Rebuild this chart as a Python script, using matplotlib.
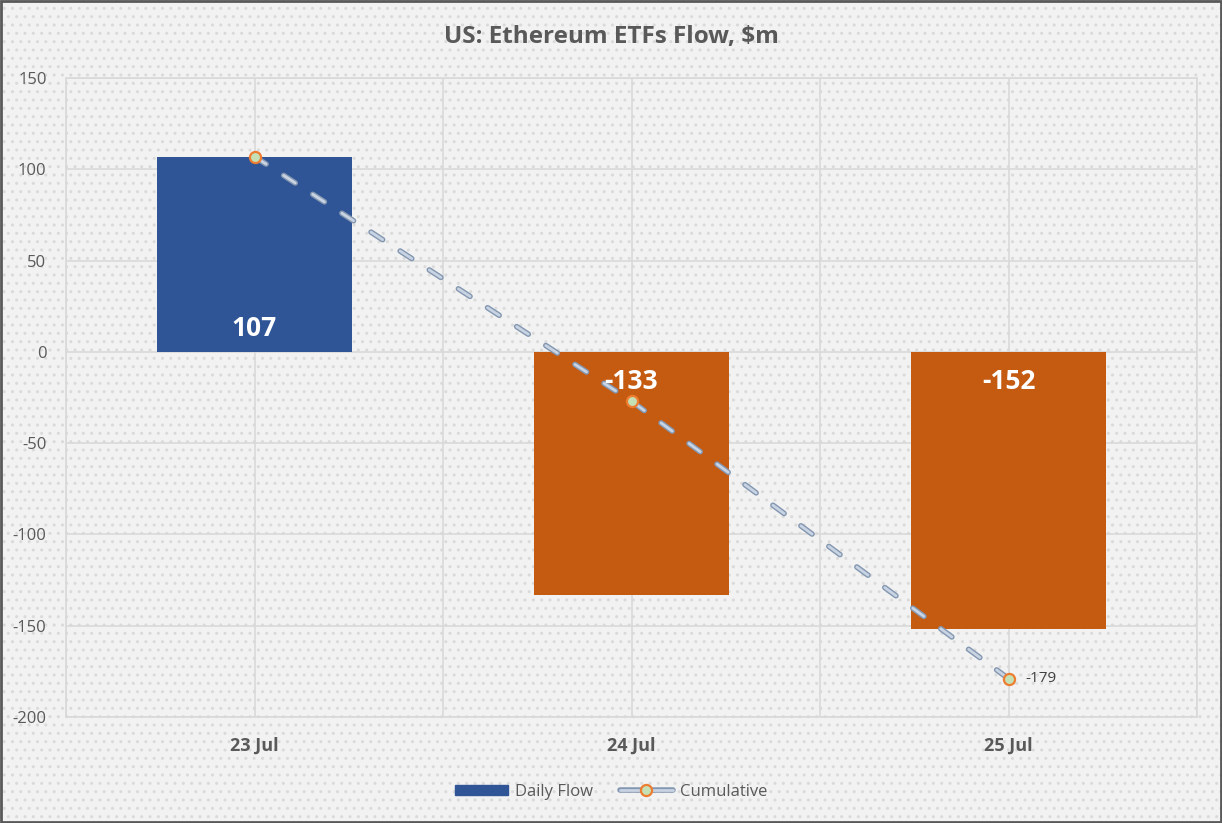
import matplotlib
matplotlib.use("Agg")
import matplotlib.pyplot as plt
import matplotlib.patheffects as pe
from matplotlib.patches import Rectangle
from matplotlib.lines import Line2D
import numpy as np

categories = ["23 Jul", "24 Jul", "25 Jul"]
daily_flow = [107, -133, -152]
cumulative = [107, -27, -179]
yticks = [150, 100, 50, 0, -50, -100, -150, -200]

plt.rcParams['font.family'] = ['Open Sans', 'DejaVu Sans']
grey = '#595959'

fig = plt.figure(figsize=(12.22, 8.23), dpi=100)
fig.patch.set_facecolor('#f2f2f2')
bg = Rectangle((0, 0), 1, 1, transform=fig.transFigure, facecolor='#f2f2f2',
               edgecolor='#dadada', hatch='..', linewidth=0, zorder=-10)
fig.patches.append(bg)
border = Rectangle((0.001, 0.001), 0.998, 0.998, transform=fig.transFigure, facecolor='none',
                   edgecolor='#595959', linewidth=2, zorder=10)
fig.patches.append(border)

ax = fig.add_axes([0.054, 0.1288, 0.9256, 0.7764])
ax.set_facecolor('none')
x = np.arange(len(categories))
colors = ['#2f5597' if v >= 0 else '#c55a11' for v in daily_flow]
bars = ax.bar(x, daily_flow, width=0.517, color=colors, zorder=3)

for xi, v in zip(x, daily_flow):
    if v >= 0:
        ax.text(xi, 13, f"{v}", ha='center', va='center', color='white',
                fontsize=19, fontweight='bold', zorder=6)
    else:
        ax.text(xi, -16, f"{v}", ha='center', va='center', color='white',
                fontsize=19, fontweight='bold', zorder=6)

line_fx = [pe.Stroke(linewidth=4, foreground='#8497b0', capstyle='round'), pe.Normal()]
ax.plot(x, cumulative, color='#c8d3e3', lw=2, dashes=(5, 7.5), zorder=5,
        path_effects=line_fx, solid_capstyle='round', dash_capstyle='round')
ax.plot(x, cumulative, linestyle='none', marker='o', markersize=8,
        markerfacecolor='#c5e0b4', markeredgecolor='#ed7d31', markeredgewidth=1.6, zorder=6)
ax.text(x[-1] + 0.045, cumulative[-1], f"{cumulative[-1]}", ha='left', va='center',
        color='#404040', fontsize=11, zorder=6)

ax.set_xlim(-0.5, 2.5)
ax.set_ylim(-200, 150)
ax.set_yticks(yticks)
ax.set_yticklabels([str(t) for t in yticks])
ax.set_xticks(x)
ax.set_xticklabels(categories, fontweight='bold')
ax.set_xticks(np.arange(-0.5, 2.6, 0.5), minor=True)
ax.tick_params(axis='both', which='both', length=0, colors=grey, labelsize=12)
ax.tick_params(axis='x', pad=14, labelsize=13)
ax.tick_params(axis='y', pad=14)
ax.grid(True, which='major', axis='y', color='#d9d9d9', lw=1.2, zorder=0)
ax.grid(True, which='both', axis='x', color='#d9d9d9', lw=1.2, zorder=0)
for s in ax.spines.values():
    s.set_color('#d9d9d9')
    s.set_linewidth(1.2)

fig.text(0.5, 0.955, "US: Ethereum ETFs Flow, $m", ha='center', va='center',
         fontsize=17.5, fontweight='bold', color=grey)

h1 = Rectangle((0, 0), 1, 1, color='#2f5597')
h2a = Line2D([0], [0], color='#c8d3e3', lw=2, solid_capstyle='round',
             path_effects=[pe.Stroke(linewidth=4, foreground='#8497b0', capstyle='round'),
                           pe.Normal()])
h2b = Line2D([0], [0], linestyle='none', marker='o', markersize=8,
             markerfacecolor='#c5e0b4', markeredgecolor='#ed7d31', markeredgewidth=1.6)
leg = fig.legend([h1, (h2a, h2b)], ["Daily Flow", "Cumulative"], loc='center',
                 bbox_to_anchor=(0.5, 0.038), ncol=2, frameon=False, fontsize=12,
                 handlelength=3.2, handleheight=0.6, columnspacing=1.6, handletextpad=0.4)
for t in leg.get_texts():
    t.set_color(grey)

fig.savefig("out.png", dpi=100, facecolor=fig.get_facecolor())
